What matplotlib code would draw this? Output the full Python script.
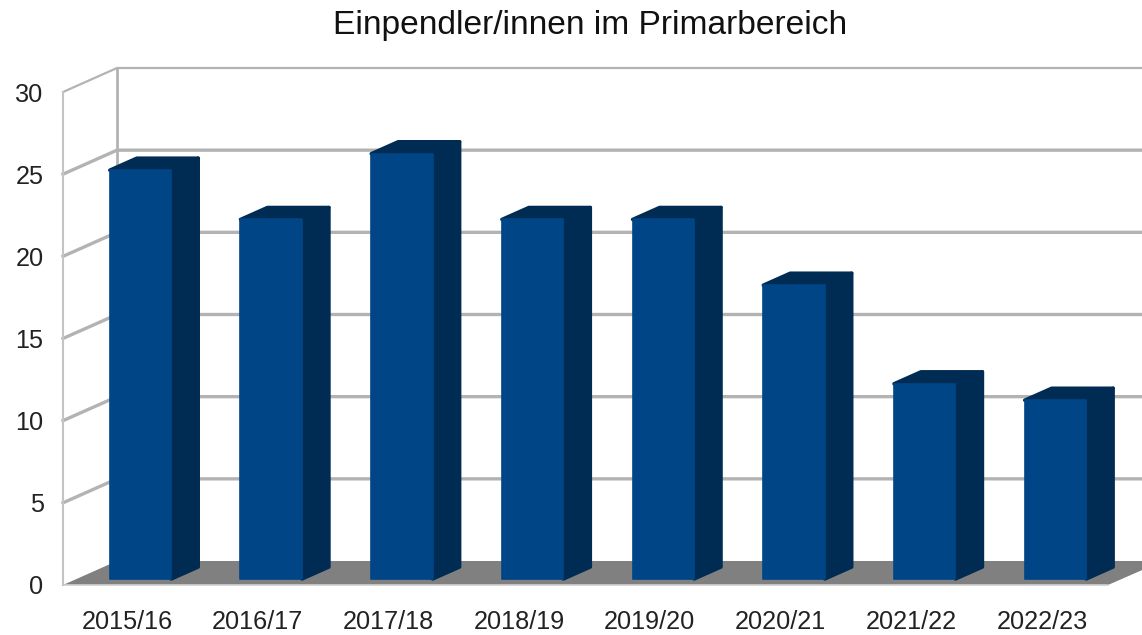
import matplotlib
matplotlib.use("Agg")
import matplotlib.pyplot as plt
from matplotlib.patches import Polygon

years = ["2015/16", "2016/17", "2017/18", "2018/19", "2019/20", "2020/21", "2021/22", "2022/23"]
values = [25, 22, 26, 22, 22, 18, 12, 11]
y_ticks = [0, 5, 10, 15, 20, 25, 30]
title = "Einpendler/innen im Primarbereich"

W, H = 1142, 635
plt.rcParams['font.family'] = ['Liberation Sans', 'DejaVu Sans']
fig = plt.figure(figsize=(W / 100, H / 100), dpi=100, facecolor='white')
L, R, B, T = 63, 1142, 585, 92
ax = fig.add_axes([L / W, 1 - B / H, (R - L) / W, (B - T) / H])
STEP = 130.7
X0 = 127
PX_Y = (B - T) / 30
ax.set_xlim((L - X0) / STEP, (R - X0) / STEP)
ax.set_ylim(0, 30)
for s in ax.spines.values():
    s.set_visible(False)
ax.patch.set_alpha(0)

DX = 54 / STEP
DY = 24 / PX_Y
x_left, x_right = ax.get_xlim()
GRID = '#b3b3b3'
FLOOR = '#808080'
FRONT = '#004586'
DARK = '#002b52'


def d(x, y, depth):
    return (x + DX * depth, y + DY * depth)


# floor
floor_end = (1108 - X0) / STEP
ax.add_patch(Polygon([d(x_left, 0, 0), d(x_left, 0, 1), (x_right, DY),
                      (x_right, DY * 0.62), (floor_end, 0)],
                     closed=True, fc=FLOOR, ec='none', zorder=1, clip_on=False))
ax.plot([x_left, floor_end], [0, 0], color='#d0d0d0', lw=1.2, zorder=1.5, clip_on=False)

# walls and gridlines
for v in y_ticks:
    if v > 0:
        p0 = d(x_left, v, 0)
        p1 = d(x_left, v, 1)
        ax.plot([p0[0], p1[0], x_right], [p0[1], p1[1], p1[1]], color=GRID,
                lw=2.4 if v < 30 else 1.6, zorder=2, clip_on=False, solid_joinstyle='miter')
ax.plot([x_left, x_left], [0, 30], color='#c4c4c4', lw=1.5, zorder=2, clip_on=False)
b = d(x_left, 0, 1)
t = d(x_left, 30, 1)
ax.plot([b[0], t[0]], [b[1], t[1]], color=GRID, lw=2.0, zorder=2, clip_on=False)

# bars
BW = 61.5 / STEP
INSET = 2 / PX_Y
for i, v in enumerate(values):
    x1 = i - BW / 2
    x2 = x1 + BW
    f, k = 0.25, 0.75
    h = v - INSET
    side = [d(x2, 0, f), d(x2, 0, k), d(x2, h, k), d(x2, h, f)]
    top = [d(x1, h, f), d(x1, h, k), d(x2, h, k), d(x2, h, f)]
    front = [d(x1, 0, f), d(x2, 0, f), d(x2, h, f), d(x1, h, f)]
    ax.add_patch(Polygon(side, closed=True, fc=DARK, ec=DARK, lw=2.5, joinstyle='round', zorder=3 + i))
    ax.add_patch(Polygon(top, closed=True, fc=DARK, ec=DARK, lw=2.5, joinstyle='round', zorder=3 + i))
    ax.add_patch(Polygon(front, closed=True, fc=FRONT, ec=FRONT, lw=1.2, joinstyle='round', zorder=3.5 + i))

ax.set_xticks(range(len(years)), years)
ax.set_yticks(y_ticks)
ax.tick_params(axis='both', length=0, labelsize=18.2, labelcolor='#222222')
ax.tick_params(axis='y', pad=14)
ax.tick_params(axis='x', pad=18)
fig.text(590 / W, 1 - 25.5 / H, title, ha='center', va='center', fontsize=24.1, color='#111111')
fig.savefig('out.png', dpi=100)
